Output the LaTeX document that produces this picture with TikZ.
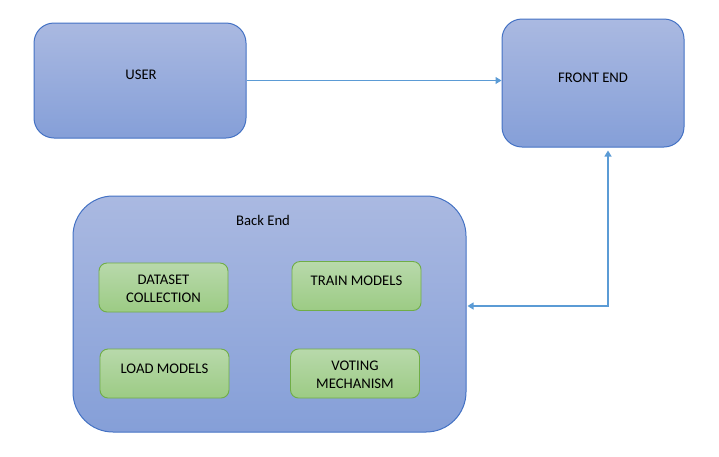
\documentclass[tikz,border=0pt]{standalone}
\usepackage{fontspec}
\setmainfont{Carlito}
\usetikzlibrary{arrows.meta}
\definecolor{bluetop}{HTML}{AAB9E1}
\definecolor{bluebot}{HTML}{859FD8}
\definecolor{blueline}{HTML}{4472C4}
\definecolor{greentop}{HTML}{B8D9AB}
\definecolor{greenbot}{HTML}{9CCB84}
\definecolor{greenline}{HTML}{70AD47}
\definecolor{arrowcol}{HTML}{5B9BD5}
\tikzset{
  bluebox/.style={draw=blueline, line width=1pt, top color=bluetop, bottom color=bluebot, inner sep=0pt},
  greenbox/.style={draw=greenline, line width=0.9pt, top color=greentop, bottom color=greenbot, rounded corners=8pt, minimum width=129pt, minimum height=49pt, inner sep=0pt},
  txt/.style={font=\fontsize{14.7}{18}\selectfont, text=black, align=center, inner sep=0pt},
  arr/.style={draw=arrowcol, line width=1.1pt, -{Triangle[width=7pt,length=6pt]}},
  arrboth/.style={draw=arrowcol, line width=1.1pt, {Triangle[width=7pt,length=6pt]}-{Triangle[width=7pt,length=6pt]}}
}
\begin{document}
\begin{tikzpicture}[x=1pt,y=-1pt]
\useasboundingbox (0,0) rectangle (719,456);
\node[bluebox, rounded corners=20pt, minimum width=212pt, minimum height=115pt] (user) at (140,80.5) {};
\node[txt] (usert) at (141,75) {USER};
\node[bluebox, rounded corners=20pt, minimum width=182pt, minimum height=128pt] (front) at (593,83) {};
\node[txt] (frontt) at (593,77.5) {FRONT END};
\node[bluebox, rounded corners=40pt, minimum width=393pt, minimum height=236pt] (back) at (269.5,314) {};
\node[txt] (backt) at (263,220.5) {Back End};
\node[greenbox] (ds) at (163.5,287.5) {};
\node[txt] (dst) at (163.5,289) {DATASET\\COLLECTION};
\node[greenbox] (tm) at (356.5,286) {};
\node[txt] (tmt) at (356.5,280.5) {TRAIN MODELS};
\node[greenbox] (lm) at (164.5,373.5) {};
\node[txt] (lmt) at (164.5,368.5) {LOAD MODELS};
\node[greenbox] (vm) at (355,373.5) {};
\node[txt] (vmt) at (355,375) {VOTING\\MECHANISM};
\draw[arr] (user.east) -- (user.east -| front.west);
\draw[arrboth] ([xshift=15pt,yshift=-3pt]front.south) |- ([xshift=1pt,yshift=8pt]back.east);
\end{tikzpicture}
\end{document}
